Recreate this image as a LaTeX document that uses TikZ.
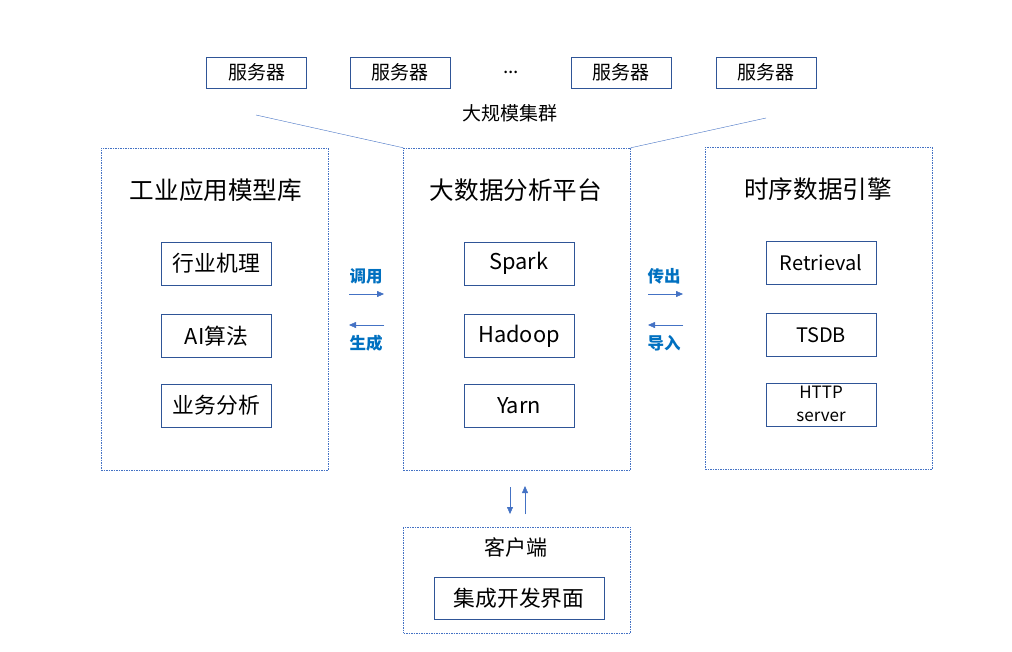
\documentclass[tikz,border=0pt]{standalone}
\usepackage{fontspec}
\setmainfont{Noto Sans CJK SC}
\usetikzlibrary{arrows.meta, positioning}
\definecolor{boxblue}{HTML}{2F5597}
\definecolor{lineblue}{HTML}{4472C4}
\definecolor{labelblue}{HTML}{0070C0}
\tikzstyle{arrow} = [thin,draw=lineblue,-{Triangle[length=7pt,width=6pt]},fill=lineblue]
\tikzstyle{server} = [rectangle, draw=boxblue, minimum width=100, minimum height=31, inner sep=0, font=\fontsize{19}{22}\selectfont]
\tikzstyle{module} = [rectangle, draw=boxblue, minimum width=110, minimum height=43, inner sep=0, font=\fontsize{21.8}{25}\selectfont]
\tikzstyle{group} = [rectangle, draw=lineblue, dash pattern=on 1.5pt off 1pt, minimum width=227, minimum height=322, inner sep=0]
\tikzstyle{title} = [font=\fontsize{24.6}{28}\selectfont]
\tikzstyle{flowlabel} = [text=labelblue, font=\fontsize{16.5}{19}\selectfont\bfseries]
\tikzset{
	smallmodule/.style = {module, font=\fontsize{20}{23}\selectfont},
}

\begin{document}
\begin{tikzpicture}[x=1pt, y=-1pt, node distance=29pt]
\useasboundingbox (0,0) rectangle (1012,651);
% Placement of nodes
\node (server1) [server] at (256.5,72.5) {服务器};
\node (server2) [server] at (400,72.5) {服务器};
\node (dots) at (511,72) {\fontsize{19}{21}\selectfont ...};
\node (server3) [server] at (621,72.5) {服务器};
\node (server4) [server] at (766,72.5) {服务器};
\node (cluster) at (510,113) {\fontsize{19}{22}\selectfont 大规模集群};

% groups
\node (modelLib) [group] at (214.5,309) {};
\node (platform) [group] at (517,309) {};
\node (tsEngine) [group] at (818.5,308) {};
\node (client) [group, minimum height=106] at (517,580) {};

\node (modelTitle) [title] at (216,190) {工业应用模型库};
\node (platTitle) [title] at (516,190) {大数据分析平台};
\node (tsTitle) [title] at (818,189) {时序数据引擎};
\node (clientTitle) [font=\fontsize{21}{24}\selectfont] at (516,547) {客户端};

\node (mechanism) [module] at (216.5,263.5) {行业机理};
\node (algo) [module, below=of mechanism] {AI算法};
\node (bizAnalysis) [module, below=26pt of algo] {业务分析};

\node (spark) [module] at (519,263.5) {Spark};
\node (hadoop) [module, below=of spark] {Hadoop};
\node (yarn) [module, below=26pt of hadoop] {Yarn};

\node (retrieval) [smallmodule] at (821,262.5) {Retrieval};
\node (tsdb) [smallmodule, below=of retrieval] {TSDB};
\node (http) [smallmodule, below=26pt of tsdb, align=center, font=\fontsize{17}{23}\selectfont] {HTTP\\server};

\node (ide) [module, minimum width=170, minimum height=42] at (519,598) {集成开发界面};

\node (callLbl) [flowlabel] at (366,276) {调用};
\node (genLbl) [flowlabel] at (366,343) {生成};
\node (outLbl) [flowlabel] at (664,276) {传出};
\node (inLbl) [flowlabel] at (664,343) {导入};

\coordinate (clusterL) at (256,115);
\coordinate (clusterR) at (766,118);
\coordinate (callA) at (349,294);
\coordinate (callB) at (384,294);
\coordinate (genA) at (384,325);
\coordinate (genB) at (349,325);
\coordinate (outA) at (648,294);
\coordinate (outB) at (683,294);
\coordinate (inA) at (683,325);
\coordinate (inB) at (648,325);
\coordinate (downA) at (510,487);
\coordinate (downB) at (510,514);
\coordinate (upA) at (525,514);
\coordinate (upB) at (525,486);

% Placement of edges
\draw [lineblue] (clusterL) -- (platform.north west);
\draw [lineblue] (clusterR) -- (platform.north east);

\draw [arrow] (callA) -- (callB);
\draw [arrow] (genA) -- (genB);
\draw [arrow] (outA) -- (outB);
\draw [arrow] (inA) -- (inB);

% platform and client
\draw [arrow] (downA) -- (downB);
\draw [arrow] (upA) -- (upB);

\end{tikzpicture}
\end{document}
